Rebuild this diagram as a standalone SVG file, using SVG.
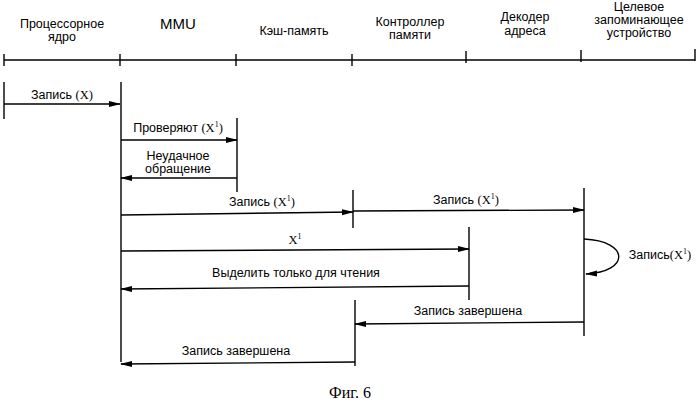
<svg xmlns="http://www.w3.org/2000/svg" width="699" height="405" viewBox="0 0 699 405">
<defs><marker id="a" markerWidth="12" markerHeight="8" refX="11" refY="4" orient="auto" markerUnits="userSpaceOnUse"><path d="M0,1 L12,4 L0,7 Z" fill="#000"/></marker></defs>
<style>
text{font-family:"Liberation Sans",Arial,sans-serif;font-size:12.5px;fill:#000;text-anchor:middle}
.s{font-family:"Liberation Serif",serif}
line,path.c{stroke:#000;stroke-width:1.4;fill:none}
</style>
<rect width="699" height="405" fill="#fff"/>
<g id="header">
<line x1="4" y1="60" x2="695" y2="60"/>
<line x1="4" y1="54" x2="4" y2="66"/><line x1="120" y1="54" x2="120" y2="66"/><line x1="236" y1="54" x2="236" y2="66"/><line x1="352" y1="54" x2="352" y2="66"/><line x1="466" y1="51" x2="466" y2="63"/><line x1="581" y1="50" x2="581" y2="62"/><line x1="695" y1="49" x2="695" y2="61"/>
</g>
<g id="n1"><text x="62" y="28">Процессорное</text><text x="62" y="41">ядро</text><line x1="4" y1="82" x2="4" y2="119"/></g>
<g id="n2"><text x="178" y="29" style="font-size:15px">MMU</text><line x1="121" y1="82" x2="121" y2="362"/></g>
<g id="n3"><text x="294" y="35">Кэш-память</text><line x1="237" y1="118" x2="237" y2="192"/></g>
<g id="n4"><text x="410" y="26">Контроллер</text><text x="410" y="39">памяти</text><line x1="353" y1="190" x2="353" y2="228"/><line x1="355" y1="300" x2="355" y2="366"/></g>
<g id="n5"><text x="525" y="21">Декодер</text><text x="525" y="35">адреса</text><line x1="469" y1="227" x2="469" y2="300"/></g>
<g id="n6"><text x="639" y="11">Целевое</text><text x="639" y="24">запоминающее</text><text x="639" y="37">устройство</text><line x1="584" y1="188" x2="584" y2="336"/></g>
<g id="connectors">
<line x1="4" y1="104" x2="120" y2="104" marker-end="url(#a)"/>
<line x1="121" y1="140" x2="237" y2="140" marker-end="url(#a)"/>
<line x1="237" y1="178" x2="121" y2="178" marker-end="url(#a)"/>
<line x1="121" y1="215" x2="353" y2="212" marker-end="url(#a)"/>
<line x1="353" y1="211" x2="584" y2="210" marker-end="url(#a)"/>
<line x1="121" y1="251" x2="469" y2="249" marker-end="url(#a)"/>
<line x1="469" y1="286" x2="121" y2="289" marker-end="url(#a)"/>
<path class="c" d="M584,239 C630,241 630,272 586,274" marker-end="url(#a)"/>
<line x1="584" y1="322" x2="355" y2="324" marker-end="url(#a)"/>
<line x1="355" y1="362" x2="121" y2="364" marker-end="url(#a)"/>
</g>
<g id="labels">
<text x="62" y="99">Запись <tspan class="s">(X)</tspan></text>
<text x="178" y="132">Проверяют <tspan class="s">(X<tspan dy="-5" font-size="8">1</tspan><tspan dy="5">)</tspan></tspan></text>
<text x="178" y="160">Неудачное</text><text x="178" y="173">обращение</text>
<text x="262" y="206">Запись <tspan class="s">(X<tspan dy="-5" font-size="8">1</tspan><tspan dy="5">)</tspan></tspan></text>
<text x="466" y="204">Запись <tspan class="s">(X<tspan dy="-5" font-size="8">1</tspan><tspan dy="5">)</tspan></tspan></text>
<text class="s" x="295" y="244">X<tspan dy="-5" font-size="8">1</tspan></text>
<text x="296" y="277">Выделить только для чтения</text>
<text x="660" y="259">Запись<tspan class="s">(X<tspan dy="-5" font-size="8">1</tspan><tspan dy="5">)</tspan></tspan></text>
<text x="468" y="315">Запись завершена</text>
<text x="236" y="355">Запись завершена</text>
<text class="s" x="350" y="398" style="font-size:16px">Фиг. 6</text>
</g>
</svg>
